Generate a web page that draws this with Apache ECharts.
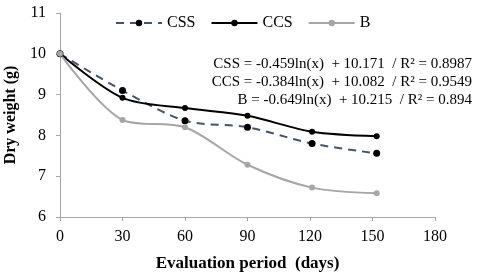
<!DOCTYPE html>
<html><head><meta charset="utf-8">
<script src="https://cdn.jsdelivr.net/npm/echarts@6/dist/echarts.min.js"></script>
<style>html,body{margin:0;padding:0;background:#fff}#c{width:480px;height:277px}</style>
</head><body><div id="c"></div>
<script>
var days = [0, 30, 60, 90, 121, 152];
var cssVals = [10.0, 9.10, 8.36, 8.20, 7.80, 7.56];
var ccsVals = [10.0, 8.92, 8.67, 8.48, 8.09, 7.98];
var bVals = [10.0, 8.38, 8.20, 7.28, 6.72, 6.58];
var xTicks = [0, 30, 60, 90, 120, 150, 180];
var yTicks = [6, 7, 8, 9, 10, 11];
var equations = [
  'CSS = -0.459ln(x)  + 10.171  / R\u00b2 = 0.8987',
  'CCS = -0.384ln(x)  + 10.082  / R\u00b2 = 0.9549',
  'B = -0.649ln(x)  + 10.215  / R\u00b2 = 0.894'
];
function pairs(v){ return days.map(function(d,i){ return [d, v[i]]; }); }
var font = 'Liberation Serif';
var chart = echarts.init(document.getElementById('c'));
chart.setOption({
  animation: false,
  textStyle: {fontFamily: font},
  legend: {
    top: 10, left: 110, itemWidth: 46, itemHeight: 8, itemGap: 15,
    textStyle: {fontFamily: font, fontSize: 16, color: '#000'},
    data: ['CSS', 'CCS', 'B']
  },
  grid: {left: 60, right: 45, top: 13, bottom: 60, containLabel: false, outerBoundsMode: 'none'},
  xAxis: {
    type: 'value', min: 0, max: 180, interval: 30,
    name: 'Evaluation period  (days)', nameLocation: 'middle', nameGap: 38,
    nameTextStyle: {fontFamily: font, fontWeight: 'bold', fontSize: 17, color: '#000'},
    axisLine: {lineStyle: {color: '#A6A6A6', width: 1}},
    axisTick: {show: true, length: 4, lineStyle: {color: '#A6A6A6'}},
    axisLabel: {fontFamily: font, fontSize: 16, color: '#000', margin: 12},
    splitLine: {show: false}
  },
  yAxis: {
    type: 'value', min: 6, max: 11, interval: 1,
    name: 'Dry weight (g)', nameLocation: 'middle', nameGap: 33,
    nameTextStyle: {fontFamily: font, fontWeight: 'bold', fontSize: 16, color: '#000'},
    axisLine: {show: true, lineStyle: {color: '#A6A6A6', width: 1}},
    axisTick: {show: true, length: 4, lineStyle: {color: '#A6A6A6'}},
    axisLabel: {fontFamily: font, fontSize: 16, color: '#000', margin: 14},
    splitLine: {show: false}
  },
  series: [
    {name: 'CSS', type: 'line', data: pairs(cssVals), smooth: 0.3,
     symbol: 'circle', symbolSize: 7,
     lineStyle: {color: '#44546A', width: 2, type: [8, 6]},
     itemStyle: {color: '#000'}},
    {name: 'CCS', type: 'line', data: pairs(ccsVals), smooth: 0.3,
     symbol: 'circle', symbolSize: 6,
     lineStyle: {color: '#000', width: 2},
     itemStyle: {color: '#000'}},
    {name: 'B', type: 'line', data: pairs(bVals), smooth: 0.3,
     symbol: 'circle', symbolSize: 6,
     lineStyle: {color: '#A6A6A6', width: 2},
     itemStyle: {color: '#A6A6A6'}}
  ],
  graphic: equations.map(function(t, i){
    return {type: 'text', right: 8, top: 57 + i * 18,
      style: {text: t, fontFamily: font, fontSize: 15, fill: '#000'}};
  })
});
</script></body></html>
